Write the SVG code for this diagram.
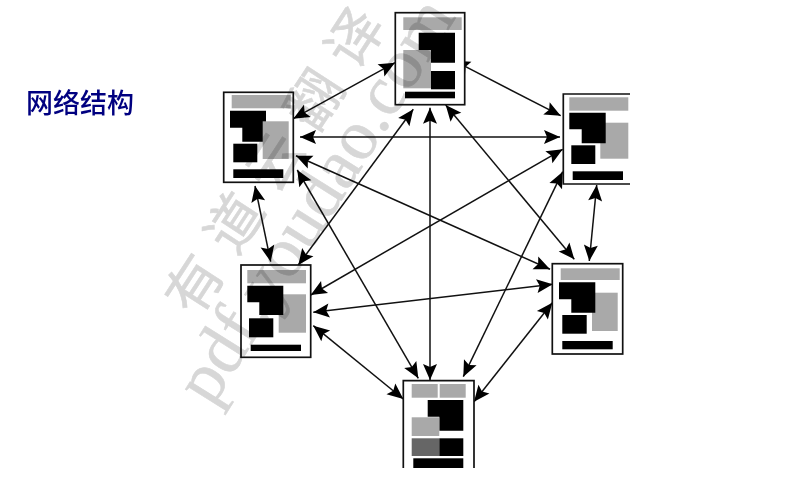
<svg xmlns="http://www.w3.org/2000/svg" width="790" height="499" viewBox="0 0 790 499">
<style>
.g{fill:#a9a9a9}.k{fill:#000}.d{fill:#666}
.box{fill:#fff;stroke:#111;stroke-width:1.7}
.c{stroke:#111;stroke-width:1.5;fill:none;marker-start:url(#a);marker-end:url(#a)}
.title{font-family:"Noto Sans CJK SC","Noto Sans",sans-serif;font-size:27px;font-weight:500;fill:#000080}
.wm{fill:#8f8f8f;stroke:#8f8f8f;stroke-width:.6;opacity:.36;mix-blend-mode:multiply}
.wl{font-family:"Liberation Serif",serif;font-size:71px}
.wc{font-family:"Noto Sans CJK SC",sans-serif;font-size:56px;font-weight:400}
</style>
<defs>
<marker id="a" markerUnits="userSpaceOnUse" markerWidth="20" markerHeight="18" refX="18" refY="9" orient="auto-start-reverse">
<path d="M18 9L2 2L5 9L2 16Z" fill="#000"/>
</marker>
</defs>
<rect width="790" height="499" fill="#fff"/>
<text class="title" x="26" y="113">网络结构</text>
<g id="connectors">
<path class="c" d="M293.300 118.700L395 62.700"/>
<path class="c" d="M300 137L560 137"/>
<path class="c" d="M296 155.700L550 269.300"/>
<path class="c" d="M297.300 170L418.300 378.300"/>
<path class="c" d="M255 186L270.700 261.700"/>
<path class="c" d="M413.300 109.300L298.300 265"/>
<path class="c" d="M430 107.700L430 380"/>
<path class="c" d="M454 60.700L560.700 115.700"/>
<path class="c" d="M445.700 105L574.300 259.300"/>
<path class="c" d="M562.700 149.300L310.700 295"/>
<path class="c" d="M562.700 171.700L463.300 376.700"/>
<path class="c" d="M596.700 185L589.300 261"/>
<path class="c" d="M313.300 312.300L552.700 284.300"/>
<path class="c" d="M313.300 325.700L403.300 399"/>
<path class="c" d="M552.300 302.700L474 401.700"/>
</g>
<g id="node-top">
<rect class="box" x="395.300" y="12.700" width="69.400" height="92"/>
<rect class="g" x="403.300" y="17.300" width="58.400" height="12.700"/>
<path class="k" d="M418.700 32.700H455V62.700H431V50H418.700Z"/>
<rect class="g" x="403.300" y="50" width="27.700" height="38.300"/>
<rect class="k" x="431" y="71" width="24" height="18.300"/>
<rect class="k" x="405" y="91.700" width="50" height="6.600"/>
</g>
<g id="node-left">
<rect class="box" x="223.700" y="92.300" width="69.600" height="90"/>
<rect class="g" x="231.700" y="95" width="59" height="13.300"/>
<path class="k" d="M230 110.700H266V141.700H242.300V127.700H230Z"/>
<rect class="g" x="262.700" y="121.300" width="26" height="37.700"/>
<rect class="k" x="233.300" y="143.700" width="24" height="18.600"/>
<rect class="k" x="233.300" y="169.300" width="50" height="8.700"/>
</g>
<g id="node-lower-left">
<rect class="box" x="241" y="265" width="69.700" height="92.300"/>
<rect class="g" x="247.300" y="270" width="58.700" height="13.300"/>
<rect class="g" x="278.700" y="294.300" width="27.300" height="38.400"/>
<path class="k" d="M247.300 285.700H283.300V315H259.300V302.300H247.300Z"/>
<rect class="k" x="249" y="318.300" width="24.300" height="19"/>
<rect class="k" x="250.700" y="344.700" width="50.300" height="6.300"/>
</g>
<g id="node-right">
<path class="box" d="M630 94H563.300V184H630"/>
<rect class="g" x="569.300" y="97.300" width="59" height="13.400"/>
<rect class="g" x="600.300" y="122.700" width="28" height="36"/>
<path class="k" d="M569.300 112.700H605.700V143.300H581.700V129.300H569.300Z"/>
<rect class="k" x="571.300" y="145.300" width="24" height="18.700"/>
<rect class="k" x="572.700" y="171.300" width="50.300" height="8.700"/>
</g>
<g id="node-lower-right">
<rect class="box" x="552.300" y="263.700" width="70.400" height="90.300"/>
<rect class="g" x="560.700" y="268.300" width="59" height="11.700"/>
<rect class="g" x="592" y="292.700" width="25.700" height="38.300"/>
<path class="k" d="M559 282.300H595.300V312.700H571.300V299.300H559Z"/>
<rect class="k" x="562.300" y="315" width="24.400" height="18.700"/>
<rect class="k" x="562.300" y="341" width="50.400" height="8.300"/>
</g>
<g id="node-bottom">
<path class="box" d="M403.300 468V380.700H474V468"/>
<rect class="g" x="411.700" y="384" width="26" height="13.700"/>
<rect class="g" x="439.700" y="384" width="26" height="13.700"/>
<path class="k" d="M427.700 400H463.300V430.700H439.300V416.700H427.700Z"/>
<rect class="g" x="411.700" y="417.300" width="27.600" height="18.700"/>
<rect class="d" x="411.700" y="438.300" width="27.600" height="17.700"/>
<rect class="k" x="439.300" y="438.300" width="24" height="17.700"/>
<rect class="k" x="413.300" y="458.300" width="50" height="9.700"/>
</g>
<g class="wm">
<text class="wl" transform="translate(212 408) rotate(-58)">pdf.youdao.com</text>
<text class="wc" transform="translate(196 319) rotate(-57)" x="0 73.500 147 220.500 294">有道云翻译</text>
</g>
</svg>
